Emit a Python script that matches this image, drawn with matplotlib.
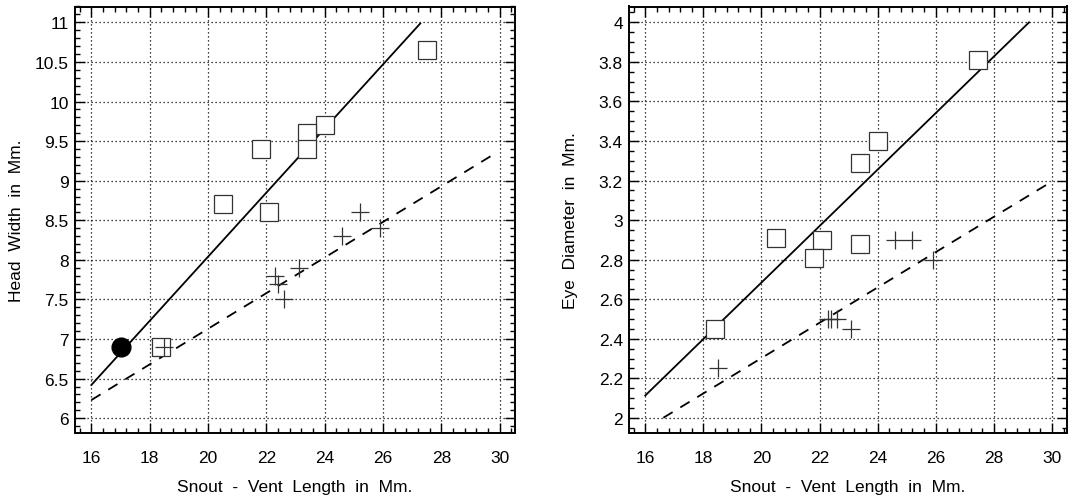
import numpy as np
import matplotlib
matplotlib.use("Agg")
import matplotlib.pyplot as plt
from matplotlib.ticker import MultipleLocator

plt.rcParams['font.family'] = ['Liberation Sans', 'DejaVu Sans']

# ---- data: left panel (Head Width) ----
hw_sq_x = [27.5, 24.0, 23.4, 23.4, 21.8, 20.5, 22.1, 18.4]
hw_sq_y = [10.65, 9.7, 9.6, 9.4, 9.4, 8.7, 8.6, 6.9]
hw_pl_x = [18.5, 22.3, 22.4, 22.6, 23.1, 24.6, 25.2, 25.9]
hw_pl_y = [6.9, 7.8, 7.7, 7.5, 7.9, 8.3, 8.6, 8.4]
hw_dot_x = [17.0]
hw_dot_y = [6.9]
hw_solid = (6.42, 0.405)   # value at x=16, slope
hw_dash = (6.23, 0.225)

# ---- data: right panel (Eye Diameter) ----
ed_sq_x = [27.45, 24.0, 23.4, 20.5, 22.1, 21.8, 23.4, 18.4]
ed_sq_y = [3.81, 3.40, 3.29, 2.91, 2.90, 2.81, 2.88, 2.45]
ed_pl_x = [18.5, 22.3, 22.4, 22.6, 23.1, 24.6, 25.2, 25.9]
ed_pl_y = [2.25, 2.5, 2.5, 2.5, 2.45, 2.9, 2.9, 2.8]
ed_solid = (2.113, 0.1428)
ed_dash = (1.945, 0.0893)

x_ticks = [16, 18, 20, 22, 24, 26, 28, 30]
hw_ticks = [6, 6.5, 7, 7.5, 8, 8.5, 9, 9.5, 10, 10.5, 11]
ed_ticks = [2, 2.2, 2.4, 2.6, 2.8, 3, 3.2, 3.4, 3.6, 3.8, 4]
hw_tick_labels = ['6', '6.5', '7', '7.5', '8', '8.5', '9', '9.5', '10', '10.5', '11']
ed_tick_labels = ['2', '2.2', '2.4', '2.6', '2.8', '3', '3.2', '3.4', '3.6', '3.8', '4']
x_label = 'Snout  -  Vent  Length  in  Mm.'
hw_label = 'Head  Width  in  Mm.'
ed_label = 'Eye  Diameter  in  Mm.'

W, H = 1071, 502
fig = plt.figure(figsize=(W / 100, H / 100), dpi=100)
ax1 = fig.add_axes([75 / W, 1 - 433.5 / H, (515 - 75) / W, (433.5 - 7.5) / H])
ax2 = fig.add_axes([629 / W, 1 - 433.5 / H, (1067 - 629) / W, (433.5 - 7.5) / H])


def fit_line(ax, params, ylo, yhi, ls):
    b, m = params
    xs = np.linspace(x_ticks[0], x_ticks[-1] - 0.2, 400)
    ys = b + m * (xs - x_ticks[0])
    ok = (ys >= ylo) & (ys <= yhi)
    if ls == 'solid':
        ax.plot(xs[ok], ys[ok], color='black', lw=1.3, zorder=2)
    else:
        ax.plot(xs[ok], ys[ok], color='black', lw=1.3, zorder=2,
                linestyle=(0, (6, 5)))


def style(ax, yticks, ylabels, ylim, yminor, ylabel, axw):
    ax.set_xlim(15.44, 30.52)
    ax.set_ylim(*ylim)
    ax.set_xticks(x_ticks)
    ax.set_xticklabels([str(t) for t in x_ticks])
    ax.set_yticks(yticks)
    ax.set_yticklabels(ylabels)
    ax.xaxis.set_minor_locator(MultipleLocator(0.4))
    ax.yaxis.set_minor_locator(MultipleLocator(yminor))
    ax.tick_params(which='both', direction='in', top=True, right=True,
                   width=1.0, color='black')
    ax.tick_params(which='major', length=7, labelsize=12.5)
    ax.tick_params(which='minor', length=3.5)
    ax.tick_params(axis='x', which='major', pad=12.5)
    ax.tick_params(axis='y', which='major', pad=4.5)
    ax.grid(True, which='major', color='black', linestyle=(0, (1, 2.2)),
            linewidth=0.9)
    ax.set_axisbelow(True)
    for s in ax.spines.values():
        s.set_linewidth(1.4)
    ax.set_xlabel(x_label, fontsize=12.5, labelpad=10.5)
    ax.set_ylabel(ylabel, fontsize=12.5)
    ax.yaxis.set_label_coords(-51 / axw, 0.5)


# left panel
fit_line(ax1, hw_solid, 6, 11, 'solid')
fit_line(ax1, hw_dash, 6, 11, 'dash')
ax1.plot(hw_sq_x, hw_sq_y, linestyle='none', marker='s', ms=13.5,
         mfc='white', mec='#333333', mew=0.9, zorder=3)
ax1.plot(hw_pl_x, hw_pl_y, linestyle='none', marker='+', ms=13,
         mec='#333333', mew=0.9, zorder=4)
ax1.plot(hw_dot_x, hw_dot_y, linestyle='none', marker='o', ms=13.5,
         mfc='black', mec='black', zorder=4)
style(ax1, hw_ticks, hw_tick_labels, (5.82, 11.2), 0.1, hw_label, 440)

# right panel
fit_line(ax2, ed_solid, 2, 4, 'solid')
fit_line(ax2, ed_dash, 2, 4, 'dash')
ax2.plot(ed_sq_x, ed_sq_y, linestyle='none', marker='s', ms=13.5,
         mfc='white', mec='#333333', mew=0.9, zorder=3)
ax2.plot(ed_pl_x, ed_pl_y, linestyle='none', marker='+', ms=13,
         mec='#333333', mew=0.9, zorder=4)
style(ax2, ed_ticks, ed_tick_labels, (1.926, 4.08), 0.05, ed_label, 438)

fig.savefig('out.png', dpi=100)
